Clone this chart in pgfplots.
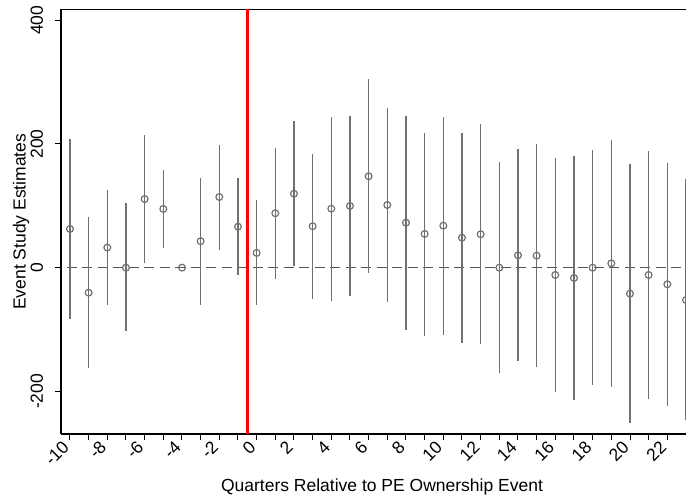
\documentclass[border=0pt]{standalone}
\usepackage{pgfplots}
\pgfplotsset{compat=1.18}
\usepackage{pgfplotstable}
\usetikzlibrary{calc}
\usepackage{fontspec}
\setmainfont{Liberation Sans}
\definecolor{cigray}{HTML}{707070}
\definecolor{zerogray}{HTML}{555555}
\pgfplotstableread{
x y lo hi
-10 62.6 -83 207.6
-9 -40.4 -161.7 81.5
-8 32.5 -60.8 125
-7 0 -101.9 104
-6 111 7 214.6
-5 95 31.3 157.5
-4 0 0 0
-3 42.7 -59.8 144.5
-2 114.3 28.6 198.4
-1 66.3 -12.3 144.5
0 23.8 -60.8 109.5
1 88 -17.8 193
2 119.6 2.7 237.2
3 67 -50.1 183.3
4 95.4 -53.8 244.2
5 99.8 -45.8 244.8
6 147.8 -9 304.6
7 101.4 -56 258.2
8 72.8 -101.2 245.8
9 54.5 -109.9 218.3
10 67.9 -108.3 243.7
11 48.5 -122.3 217.3
12 54 -123.9 231.8
13 0 -170.8 170.9
14 20 -150.4 191.4
15 19.4 -160 199.5
16 -11.8 -201.5 177.4
17 -16.7 -213.4 181.1
18 0 -189.7 189.8
19 7 -192.4 207
20 -42 -251.1 167.7
21 -11.8 -212.8 188.2
22 -26.9 -223.6 169.8
23 -52.2 -246.2 142.9
}\est
\begin{document}
\fontsize{17.5}{21}\selectfont
\begin{tikzpicture}
\begin{axis}[
  name=ax,
  scale only axis,
  width=625pt, height=424.5pt,
  xmin=-10.48, xmax=23.0,
  ymin=-269, ymax=417.5,
  axis x line*=box, axis y line*=left,
  axis line style={black, line width=1.2pt},
  tick align=outside,
  xtick pos=left, ytick pos=left,
  xtick={-10,-8,...,22},
  minor xtick={-9,-7,...,23},
  ytick={-200,0,200,400},
  major tick length=6pt, minor tick length=6pt,
  tick style={black, line width=1pt},
  minor tick style={black, line width=1pt},
  /pgf/number format/assume math mode=true,
  ticklabel style={font=\fontsize{17.5}{21}\selectfont},
  xticklabel style={rotate=45, anchor=east},
  yticklabel style={rotate=90, anchor=south},
  yticklabel shift=6pt,
  xlabel={Quarters Relative to PE Ownership Event},
  ylabel={Event Study Estimates},
  xlabel style={at={(axis description cs:0.5136,-0.1359)}, anchor=base, font=\fontsize{17.5}{21}\selectfont},
  ylabel style={at={(axis description cs:-0.0568,0.5)}, anchor=base, font=\fontsize{17.5}{21}\selectfont},
  clip=true,
]
\addplot[zerogray, line width=1.4pt, dash pattern=on 10pt off 5.5pt, forget plot] coordinates {(-11,0) (24,0)};
\addplot[draw=none, mark=none,
  error bars/.cd, y dir=both, y explicit,
  error mark=none,
  error bar style={cigray, line width=1.3pt}]
  table[x=x, y=y, y error plus expr={\thisrow{hi}-\thisrow{y}}, y error minus expr={\thisrow{y}-\thisrow{lo}}] {\est};
\addplot[only marks, mark=o, mark size=3.4pt, mark options={draw=cigray, line width=1.2pt}] table[x=x, y=y] {\est};
\addplot[red, line width=2.7pt] coordinates {(-0.5,-300) (-0.5,450)};
\coordinate (sw) at (rel axis cs:0,0);
\coordinate (ne) at (rel axis cs:1,1);
\end{axis}
\pgfresetboundingbox
\path[use as bounding box] ($(sw)+(-61pt,-65pt)$) rectangle ($(ne)+(0pt,9.5pt)$);
\end{tikzpicture}
\end{document}
